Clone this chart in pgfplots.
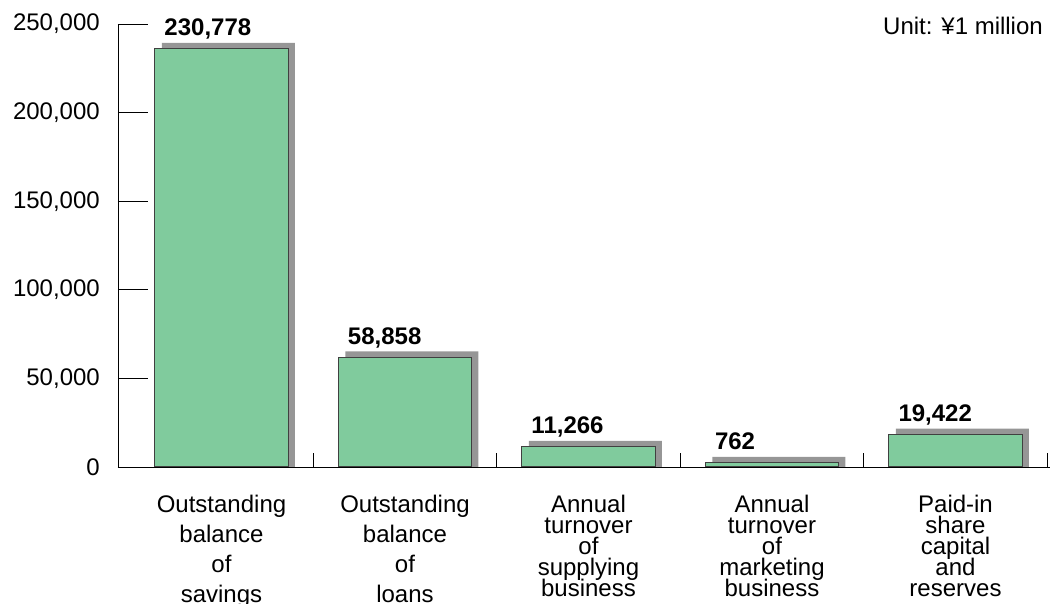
\documentclass[border=0pt]{standalone}
\usepackage{pgfplots}
\pgfplotsset{compat=1.18}
\usepackage{pgfplotstable}
\usepackage{fontspec}
\setmainfont{Liberation Sans}
\definecolor{barfill}{RGB}{128,203,157}
\definecolor{shadowgray}{RGB}{150,150,150}
\definecolor{edgegray}{RGB}{64,64,64}

% bar heights as drawn, label = printed value
\pgfplotstableread{
x h lab
0 236000 230,778
1 61800 58,858
2 11300 11,266
3 2300 762
4 18300 19,422
}\coop

\begin{document}
\begin{tikzpicture}
\path[use as bounding box] (-118pt,-137pt) rectangle (932pt,467pt);
\begin{axis}[
  at={(0pt,0pt)}, anchor=south west,
  scale only axis, width=932pt, height=443pt,
  xmin=-0.564, xmax=4.515, ymin=0, ymax=250000,
  axis x line*=bottom, axis y line*=left,
  axis line style={black, line width=0.8pt},
  ybar, bar width=0.725,
  tick align=inside,
  major tick length=30pt,
  minor tick length=14pt,
  tick style={black, line width=0.8pt},
  ytick={0,50000,100000,150000,200000,250000},
  scaled y ticks=false,
  tick label style={font=\fontsize{24}{30}\selectfont},
  yticklabel style={anchor=east, inner sep=0pt, xshift=-18pt},
  yticklabel={\pgfmathprintnumber[fixed, precision=0, assume math mode=true, 1000 sep={,}]{\tick}},
  xtick={0,1,2,3,4},
  major x tick style={draw=none},
  minor xtick={0.5,1.5,2.5,3.5,4.5},
  xticklabels={
    {Outstanding\\balance\\of\\savings},
    {Outstanding\\balance\\of\\loans},
    {Annual\\[-9pt]turnover\\[-9pt]of\\[-9pt]supplying\\[-9pt]business},
    {Annual\\[-9pt]turnover\\[-9pt]of\\[-9pt]marketing\\[-9pt]business},
    {Paid-in\\[-9pt]share\\[-9pt]capital\\[-9pt]and\\[-9pt]reserves}},
  xticklabel style={anchor=north, align=center, inner sep=0pt, yshift=-28pt},
  clip=false,
]
  \addplot[fill=shadowgray, draw=none, bar shift=0.038]
    table[x=x, y expr=\thisrow{h}+3400] {\coop};
  \addplot[fill=barfill, draw=edgegray, line width=1pt, bar shift=0,
    nodes near coords, point meta=explicit symbolic,
    every node near coord/.append style={anchor=base west, inner sep=0pt,
      xshift=-57.5pt, yshift=13pt, text=black,
      font=\bfseries\fontsize{24}{30}\selectfont}]
    table[x=x, y=h, meta=lab] {\coop};
  \node[anchor=base east, inner sep=0pt, font=\fontsize{24}{30}\selectfont,
    xshift=-7pt, yshift=-11pt] at (rel axis cs:1,1) {Unit: ¥1 million};
\end{axis}
\end{tikzpicture}
\end{document}
